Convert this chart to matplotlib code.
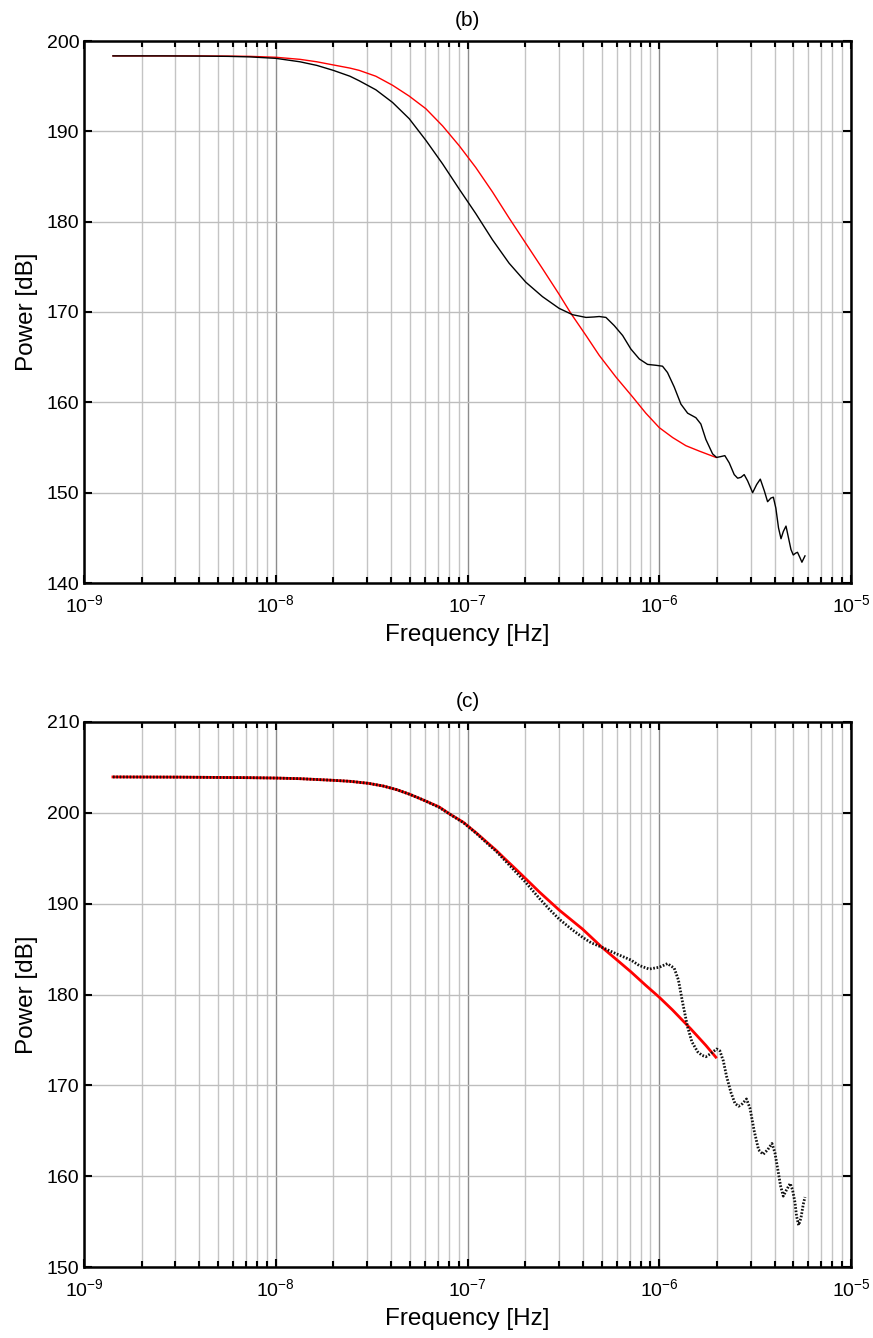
import matplotlib
matplotlib.use("Agg")
import matplotlib.pyplot as plt
import numpy as np
from matplotlib.ticker import MultipleLocator, NullFormatter, FixedLocator

plt.rcParams['font.family'] = ['Liberation Sans', 'DejaVu Sans']
plt.rcParams['mathtext.fontset'] = 'custom'
plt.rcParams['mathtext.rm'] = 'Liberation Sans'
plt.rcParams['mathtext.it'] = 'Liberation Sans:italic'
plt.rcParams['mathtext.bf'] = 'Liberation Sans:bold'

# ---------------- data (log10 frequency [Hz], power [dB]) ----------------
b_black_logf = [-8.849, -8.6, -8.4, -8.25, -8.134, -8.0, -7.874, -7.786, -7.700, -7.613,
                -7.565, -7.478, -7.391, -7.304, -7.217, -7.130, -7.043, -6.957, -6.870,
                -6.783, -6.696, -6.609, -6.522, -6.452, -6.382, -6.340, -6.313, -6.278,
                -6.235, -6.191, -6.148, -6.104, -6.061, -6.017, -5.983, -5.957, -5.922,
                -5.887, -5.852, -5.809, -5.783, -5.757, -5.722, -5.701, -5.678, -5.658,
                -5.635, -5.609, -5.591, -5.574, -5.557, -5.539, -5.513, -5.492, -5.473,
                -5.452, -5.435, -5.418, -5.405, -5.392, -5.378, -5.365, -5.353, -5.339,
                -5.326, -5.313, -5.301, -5.289, -5.279, -5.266, -5.256, -5.247, -5.240]
b_black_db = [198.35, 198.35, 198.33, 198.3, 198.24, 198.08, 197.7, 197.3, 196.75, 196.1,
              195.6, 194.6, 193.2, 191.4, 189.0, 186.4, 183.6, 180.9, 178.0,
              175.4, 173.3, 171.7, 170.4, 169.7, 169.4, 169.45, 169.5, 169.4,
              168.5, 167.4, 165.9, 164.8, 164.2, 164.1, 164.0, 163.3, 161.7,
              159.8, 158.8, 158.3, 157.6, 155.9, 154.3, 153.9, 154.0, 154.1,
              153.3, 152.0, 151.6, 151.7, 152.0, 151.3, 150.0, 150.9, 151.5,
              150.2, 149.0, 149.4, 149.5, 148.3, 146.1, 144.9, 145.7, 146.3,
              145.0, 143.7, 143.1, 143.3, 143.4, 142.8, 142.3, 142.7, 143.0]

b_red_logf = [-8.849, -8.6, -8.4, -8.25, -8.134, -8.0, -7.874, -7.786, -7.700, -7.613,
              -7.565, -7.478, -7.391, -7.304, -7.217, -7.130, -7.043, -6.957, -6.870,
              -6.783, -6.696, -6.609, -6.522, -6.461, -6.382, -6.313, -6.226, -6.139,
              -6.070, -6.0, -5.930, -5.861, -5.791, -5.704]
b_red_db = [198.35, 198.35, 198.35, 198.33, 198.3, 198.2, 197.97, 197.7, 197.35, 197.0,
            196.75, 196.1, 195.1, 193.9, 192.5, 190.6, 188.4, 186.0, 183.3,
            180.4, 177.6, 174.8, 171.95, 169.85, 167.4, 165.2, 162.8, 160.6,
            158.8, 157.2, 156.1, 155.2, 154.6, 153.9]

c_black_logf = [-8.849, -8.5, -8.134, -8.0, -7.874, -7.700, -7.613, -7.517, -7.439, -7.369,
                -7.300, -7.230, -7.148, -7.091, -7.021, -6.952, -6.882, -6.852, -6.699,
                -6.626, -6.574, -6.522, -6.452, -6.400, -6.356, -6.299, -6.226, -6.148,
                -6.105, -6.053, -6.000, -5.957, -5.922, -5.900, -5.879, -5.853, -5.830,
                -5.800, -5.777, -5.757, -5.731, -5.701, -5.684, -5.666, -5.649, -5.626,
                -5.605, -5.586, -5.565, -5.545, -5.527, -5.505, -5.482, -5.458, -5.435,
                -5.412, -5.397, -5.383, -5.367, -5.353, -5.336, -5.317, -5.305, -5.292,
                -5.284, -5.273, -5.261, -5.249, -5.240]
c_black_db = [203.95, 203.93, 203.87, 203.83, 203.76, 203.58, 203.47, 203.25, 202.95, 202.55,
              202.03, 201.41, 200.6, 199.83, 198.91, 197.70, 196.34, 195.8, 192.4,
              190.6, 189.4, 188.3, 187.1, 186.3, 185.7, 185.2, 184.5, 183.8,
              183.2, 182.8, 183.0, 183.4, 182.9, 181.6, 179.2, 176.5, 174.8,
              173.7, 173.3, 173.15, 173.5, 174.0, 173.8, 172.7, 171.0, 169.2,
              168.0, 167.7, 168.0, 168.5, 167.5, 165.0, 162.9, 162.4, 162.9,
              163.6, 162.6, 160.9, 158.9, 157.8, 158.5, 159.2, 158.5, 157.1,
              155.6, 154.6, 155.4, 156.9, 157.7]

c_red_logf = [-8.849, -8.5, -8.134, -8.0, -7.874, -7.700, -7.613, -7.517, -7.439, -7.369,
              -7.300, -7.230, -7.148, -7.091, -7.021, -6.952, -6.882, -6.852, -6.813,
              -6.743, -6.699, -6.626, -6.522, -6.400, -6.299, -6.226, -6.148, -6.070,
              -6.0, -5.931, -5.835, -5.757, -5.705]
c_red_db = [203.95, 203.93, 203.87, 203.83, 203.76, 203.58, 203.47, 203.25, 202.95, 202.55,
            202.03, 201.41, 200.65, 199.85, 198.95, 197.75, 196.45, 195.9, 195.1,
            193.7, 192.8, 191.3, 189.3, 187.2, 185.2, 183.9, 182.5, 181.0,
            179.7, 178.3, 176.2, 174.4, 173.1]

x_ticks = [1e-9, 1e-8, 1e-7, 1e-6, 1e-5]

panels = [
    dict(title='(b)', ylim=(140, 200), black=(b_black_logf, b_black_db), red=(b_red_logf, b_red_db),
         rect=[84/873, 1-583/1338, (851-84)/873, (583-41)/1338], style='b'),
    dict(title='(c)', ylim=(150, 210), black=(c_black_logf, c_black_db), red=(c_red_logf, c_red_db),
         rect=[84/873, 1-1267/1338, (851-84)/873, (1267-722)/1338], style='c'),
]

fig = plt.figure(figsize=(8.73, 13.38), dpi=100)

for p in panels:
    ax = fig.add_axes(p['rect'])
    bf = 10 ** np.array(p['black'][0])
    rf = 10 ** np.array(p['red'][0])
    if p['style'] == 'b':
        ax.plot(rf, p['red'][1], color='red', lw=1.0, zorder=3, solid_joinstyle='round')
        ax.plot(bf, p['black'][1], color='black', lw=1.0, zorder=4, solid_joinstyle='round')
    else:
        ax.plot(rf, p['red'][1], color='red', lw=2.0, zorder=3, solid_joinstyle='round')
        ax.plot(bf, p['black'][1], color='#111111', lw=2.0, ls=(0, (0.6, 0.6)), zorder=4)
    ax.set_xscale('log')
    ax.set_xlim(1e-9, 1e-5)
    ax.set_ylim(*p['ylim'])
    ax.yaxis.set_major_locator(MultipleLocator(10))
    ax.set_xticks(x_ticks)
    minor = [m * d for d in x_ticks[:-1] for m in range(2, 10)]
    ax.xaxis.set_minor_locator(FixedLocator(minor))
    ax.xaxis.set_minor_formatter(NullFormatter())
    ax.grid(True, which='major', axis='x', color='#8c8c8c', lw=1.0)
    ax.grid(True, which='minor', axis='x', color='#c4c4c4', lw=1.0)
    ax.grid(True, which='major', axis='y', color='#bdbdbd', lw=1.0)
    ax.tick_params(which='both', direction='in', top=True, right=True, labelsize=14,
                   width=1.5, color='black')
    ax.tick_params(which='major', length=6)
    ax.tick_params(which='minor', length=4)
    ax.tick_params(axis='x', pad=8)
    for s in ax.spines.values():
        s.set_linewidth(1.8)
    ax.set_xlabel('Frequency [Hz]', fontsize=17.5, labelpad=6)
    ax.set_ylabel('Power [dB]', fontsize=17.5, labelpad=6)
    ax.set_title(p['title'], fontsize=15, pad=11)

fig.savefig('out.png', dpi=100)
